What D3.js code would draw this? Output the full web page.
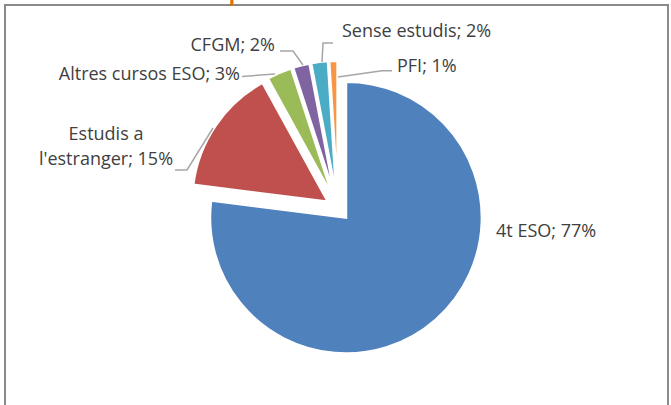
<!DOCTYPE html>
<html><head><meta charset="utf-8">
<script src="https://cdn.jsdelivr.net/npm/d3@7"></script>
<style>html,body{margin:0;padding:0;background:#fff;overflow:hidden}</style>
</head><body>
<svg id="chart" width="671" height="405"></svg>
<script>
// ---- data ----
const categories = ["4t ESO", "Estudis a l'estranger", "Altres cursos ESO", "CFGM", "Sense estudis", "PFI"];
const values = [77, 15, 3, 2, 2, 1];
const labelText = [["4t ESO; 77%"], ["Estudis a", "l'estranger; 15%"], ["Altres cursos ESO; 3%"], ["CFGM; 2%"], ["Sense estudis; 2%"], ["PFI; 1%"]];

// ---- style / layout ----
const colors = ["#4f81bd", "#c0504d", "#9bbb59", "#8064a2", "#4bacc6", "#f79646"];
const cx = 338, cy = 208.6, R = 136, explode = 12;
const labelPos = [
  {x: 496, y: 237, anchor: "start"},
  {x: 106, y: 140, anchor: "middle", dy: 25},
  {x: 240, y: 80, anchor: "end"},
  {x: 275, y: 51, anchor: "end"},
  {x: 342, y: 37, anchor: "start"},
  {x: 397, y: 71.5, anchor: "start"}
];
const leaders = [
  null,
  [[175,170],[187,170],[213,128]],
  [[242,76.5],[275,74]],
  [[280,51],[293,51],[303,65]],
  [[333,43],[323,43],[322,62]],
  [[338,77],[382,70.7],[392,70.7]]
];

const svg = d3.select("#chart");
const font = "'Open Sans', 'Noto Sans', sans-serif";

// frame
svg.append("rect").attr("x", 5).attr("y", 5).attr("width", 663).attr("height", 430)
  .attr("fill", "none").attr("stroke", "#8a8a8a").attr("stroke-width", 2);

// fragment of cut-off title (only the descender is visible in the reference)
svg.append("text").attr("x", 228).attr("y", 0).attr("fill", "#e36c09")
  .style("font-family", "Lato, sans-serif").style("font-size", "34px")
  .text("p");

const pie = d3.pie().sort(null).value(d => d);
const arcs = pie(values);
const arc = d3.arc().innerRadius(0).outerRadius(R);

svg.append("g").attr("transform", `translate(${cx},${cy})`)
  .selectAll("path").data(arcs).join("path")
  .attr("transform", d => {
    const m = (d.startAngle + d.endAngle) / 2;
    return `translate(${explode * Math.sin(m)},${-explode * Math.cos(m)})`;
  })
  .attr("d", arc)
  .attr("fill", (d, i) => colors[i])
  .attr("stroke", "#fff").attr("stroke-width", 2.6).attr("stroke-linejoin", "miter");

// leader lines
const line = d3.line();
svg.append("g").selectAll("path").data(leaders.filter(l => l)).join("path")
  .attr("d", d => line(d)).attr("fill", "none")
  .attr("stroke", "#a6a6a6").attr("stroke-width", 1.5);

// labels
const lg = svg.append("g").style("font-family", font).style("font-size", "18px").attr("fill", "#404040");
labelText.forEach((lines, i) => {
  const p = labelPos[i];
  const t = lg.append("text").attr("x", p.x).attr("y", p.y).attr("text-anchor", p.anchor);
  lines.forEach((s, j) => t.append("tspan").attr("x", p.x).attr("dy", j === 0 ? 0 : p.dy).text(s));
});
</script>
</body></html>
